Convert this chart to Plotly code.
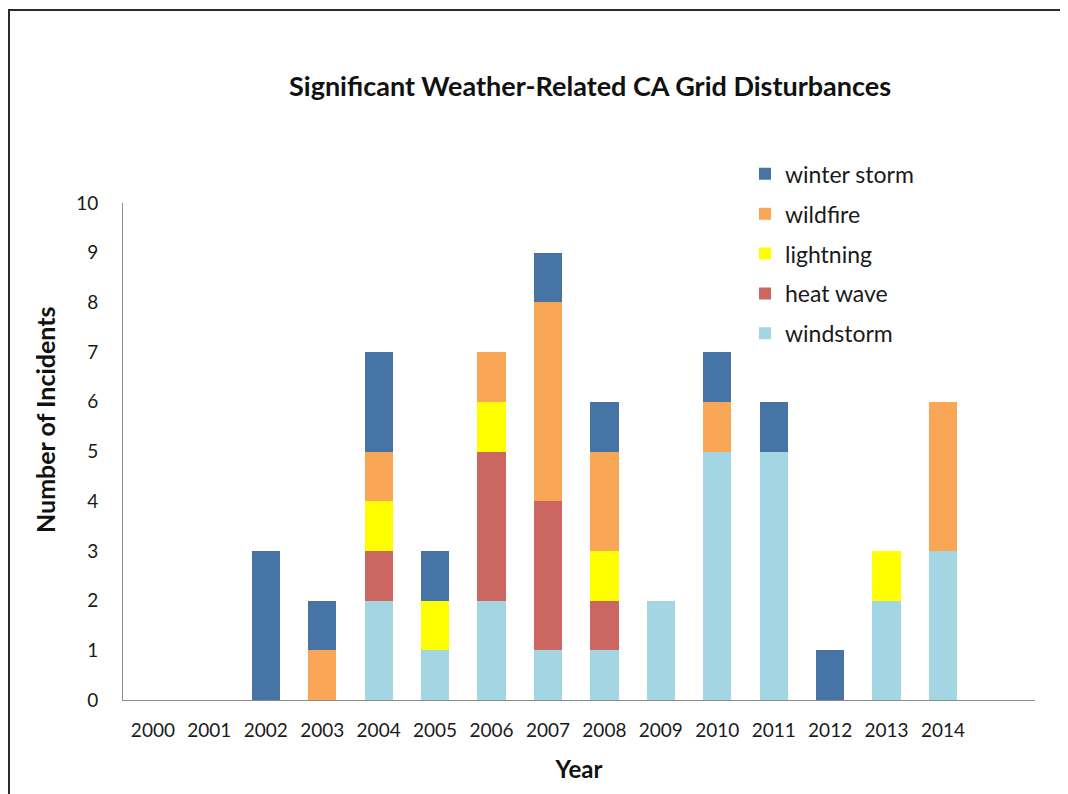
import plotly.graph_objects as go

years = [2000, 2001, 2002, 2003, 2004, 2005, 2006, 2007, 2008, 2009, 2010, 2011, 2012, 2013, 2014]
windstorm =    [0, 0, 0, 0, 2, 1, 2, 1, 1, 2, 5, 5, 0, 2, 3]
heat_wave =    [0, 0, 0, 0, 1, 0, 3, 3, 1, 0, 0, 0, 0, 0, 0]
lightning =    [0, 0, 0, 0, 1, 1, 1, 0, 1, 0, 0, 0, 0, 1, 0]
wildfire =     [0, 0, 0, 1, 1, 0, 1, 4, 2, 0, 1, 0, 0, 0, 3]
winter_storm = [0, 0, 3, 1, 2, 1, 0, 1, 1, 0, 1, 1, 1, 0, 0]
y_ticks = [0, 1, 2, 3, 4, 5, 6, 7, 8, 9, 10]

series = [
    ("windstorm", windstorm, "#A4D5E3"),
    ("heat wave", heat_wave, "#CC6661"),
    ("lightning", lightning, "#FFFF00"),
    ("wildfire", wildfire, "#FAA657"),
    ("winter storm", winter_storm, "#4674A4"),
]

FONT = "Lato"
fig = go.Figure()
n = len(series)
for i, (name, vals, col) in enumerate(series):
    fig.add_trace(go.Bar(
        x=years, y=vals, name=name, legendgroup=name, legendrank=n - i,
        marker=dict(color=col, line=dict(width=0)),
        width=0.5,
    ))

# page is offset by ~8px body margin; plot area on screen: x 123..1035, y 203..700
fig.update_layout(
    width=1068, height=794,
    barmode="stack",
    plot_bgcolor="white", paper_bgcolor="white",
    margin=dict(l=115, r=41, t=195, b=102),
    font=dict(family=FONT, size=19, color="#1a1a1a"),
    title=dict(text="<b>Significant Weather-Related CA Grid Disturbances</b>",
               x=0.545, xanchor="center", y=0.9005, yanchor="middle",
               font=dict(family=FONT, size=27, color="#111111")),
    legend=dict(x=0.682, xanchor="left", y=1.102, yanchor="top",
                traceorder="grouped", tracegroupgap=7,
                font=dict(family=FONT, size=23, color="#1a1a1a"),
                bgcolor="rgba(0,0,0,0)", itemwidth=30),
    showlegend=True,
    xaxis=dict(range=[1999.47, 2015.63], tickmode="array", tickvals=years,
               ticktext=[str(y) for y in years], showgrid=False, zeroline=False,
               showline=True, linecolor="#8c8c8c", linewidth=1, ticks="",
               ticklabelstandoff=13,
               title=dict(text="<b>Year</b>", font=dict(family=FONT, size=24, color="#111111"), standoff=21)),
    yaxis=dict(range=[0, 10], tickmode="array", tickvals=y_ticks, showgrid=False,
               zeroline=False, showline=True, linecolor="#8c8c8c", linewidth=1, ticks="",
               ticklabelstandoff=20),
    annotations=[dict(text="<b>Number of Incidents</b>", textangle=-90,
                      xref="paper", yref="paper",
                      x=(45 - 123) / 912, y=(700 - 420) / 497,
                      xanchor="center", yanchor="middle", showarrow=False,
                      font=dict(family=FONT, size=25, color="#111111"))],
    shapes=[dict(type="rect", xref="paper", yref="paper",
                 x0=(9 - 123) / 912, x1=(1063 - 123) / 912,
                 y0=-0.3, y1=(700 - 10) / 497,
                 line=dict(color="#2b2b2b", width=2), fillcolor="rgba(0,0,0,0)", layer="above")],
)

fig.write_html("out.html")
